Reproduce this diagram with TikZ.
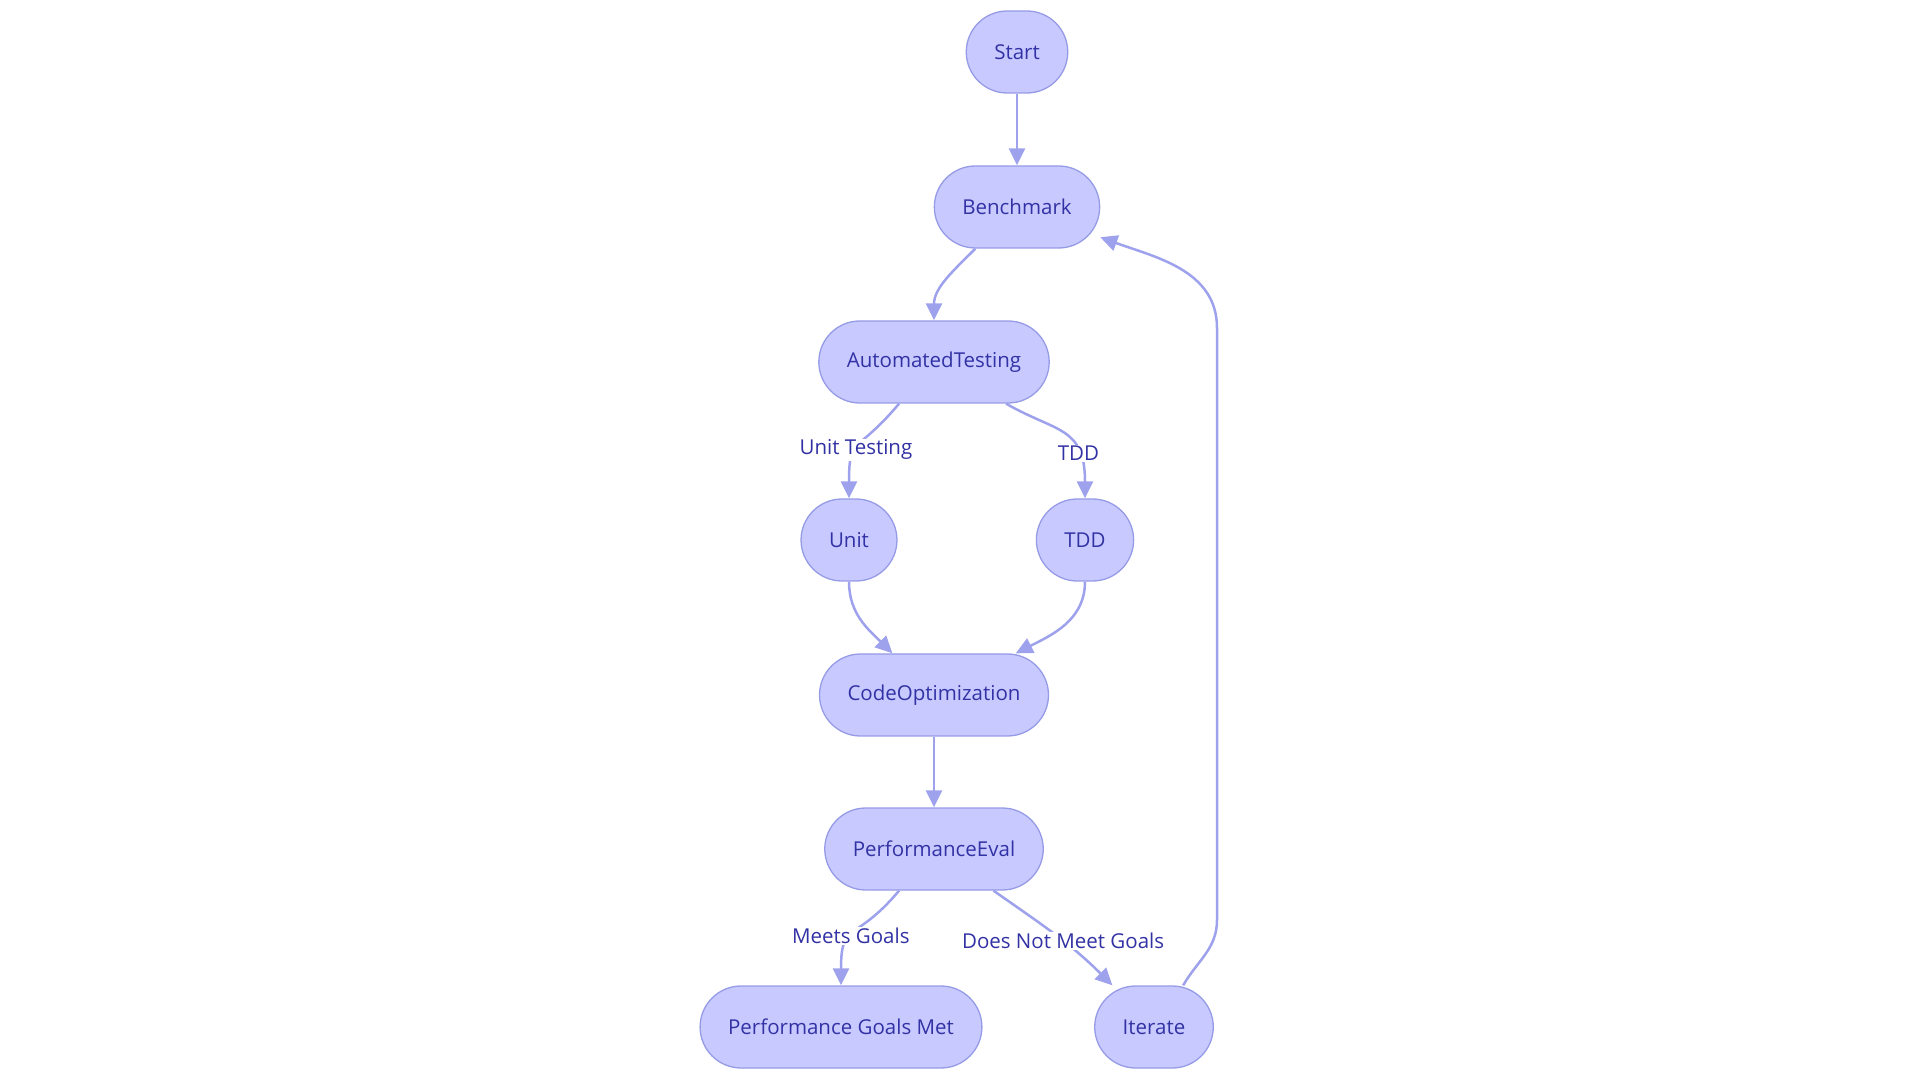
\documentclass[tikz,border=0pt]{standalone}
\usepackage{fontspec}
\setmainfont{Open Sans}
\usetikzlibrary{arrows.meta}
\definecolor{boxfill}{RGB}{200,202,255}
\definecolor{boxline}{RGB}{150,155,230}
\definecolor{linkcol}{RGB}{158,162,236}
\definecolor{txtcol}{RGB}{50,50,165}
\begin{document}
\begin{tikzpicture}
  [x=1pt,y=1pt,
    every node/.style={text=txtcol,font=\fontsize{20.5}{24}\selectfont},
    box/.style={draw=boxline,fill=boxfill,line width=1.3pt,rounded corners=41pt,
      minimum height=82pt,inner xsep=28pt,inner ysep=0pt},
    lbl/.style={fill=white,inner sep=1pt},
    edge/.style={draw=linkcol,line width=2.5pt,-{Triangle[length=17pt,width=16pt]}},
    bend down/.style={out looseness=1.6,in looseness=1.5},
]
  \useasboundingbox (0,0) rectangle (1920,1080);
  \node[box] (start) at (1017,1028) {Start};
  \node[box] (bench) at (1017,873) {Benchmark};
  \node[box] (auto) at (934,718) {AutomatedTesting};
  \node[box] (unit) at (849,540) {Unit};
  \node[box] (tdd) at (1085,540) {TDD};
  \node[box] (code) at (934,385) {CodeOptimization};
  \node[box] (perf) at (934,231) {PerformanceEval};
  \node[box] (goalsmet) at (841,53) {Performance Goals Met};
  \node[box] (iter) at (1154,53) {Iterate};
  % loop back up the right side
  \coordinate (loopB) at (1217,160);
  \coordinate (loopT) at (1217,752);

  \draw[edge] (start) -- (bench);
  \draw[edge] (bench) to[out=-135,in=90] (auto);
  \draw[edge] (auto) to[out=-130,in=90,bend down] node[lbl,pos=0.55]{Unit Testing} (unit);
  \draw[edge] (auto) to[out=-30,in=90,out looseness=1.2,in looseness=1.5] node[lbl,pos=0.72]{TDD} (tdd);
  \draw[edge] (unit) to[out=-90,in=135] (code);
  \draw[edge] (tdd) to[out=-90,in=27] (code);
  \draw[edge] (code) -- (perf);
  \draw[edge] (perf) to[out=-130,in=90,bend down] node[lbl,pos=0.55]{Meets Goals} (goalsmet);
  \draw[edge] (perf) to[out=-35,in=135] node[lbl,pos=0.57]{Does Not Meet Goals} (iter);
  \draw[edge] (iter.55) to[out=60,in=-90] (loopB) -- (loopT) to[out=90,in=-20] (bench);
\end{tikzpicture}
\end{document}
